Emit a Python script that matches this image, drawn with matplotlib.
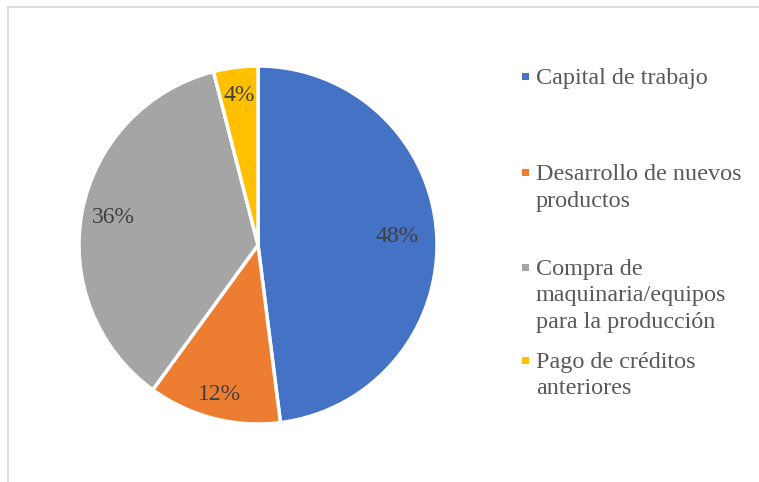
"""Pie chart: destino de los recursos."""
import matplotlib
matplotlib.use("Agg")
import matplotlib.pyplot as plt
import numpy as np
from matplotlib.lines import Line2D
from matplotlib.patches import Rectangle

labels = ["Capital de trabajo",
          "Desarrollo de nuevos\nproductos",
          "Compra de\nmaquinaria/equipos\npara la producción",
          "Pago de créditos\nanteriores"]
values = [48, 12, 36, 4]
colors = ["#4472C4", "#ED7D31", "#A5A5A5", "#FFC000"]

W, H = 759, 482
fig = plt.figure(figsize=(W / 100, H / 100), dpi=100)
plt.rcParams["font.family"] = ["Liberation Serif", "DejaVu Serif"]

# chart frame (only top and left edges visible)
fig.add_artist(Line2D([7.5 / W, 1], [1 - 6.5 / H, 1 - 6.5 / H], color="#d9d9d9", lw=1.2))
fig.add_artist(Line2D([7.5 / W, 7.5 / W], [0, 1 - 6.5 / H], color="#d9d9d9", lw=1.2))

# pie centred at (258, 245) px, radius ~179 px
ax = fig.add_axes([79 / W, (H - 424) / H, 358 / W, 358 / H])
wedges, texts, autotexts = ax.pie(
    values, colors=colors, startangle=90, counterclock=False, radius=1,
    autopct="%d%%", pctdistance=0.8,
    wedgeprops=dict(edgecolor="white", linewidth=2.5),
    textprops=dict(color="#404040", fontsize=17))
ax.set_xlim(-1, 1)
ax.set_ylim(-1, 1)
ax.set_aspect("equal")
ax.axis("off")

# label distances differ slightly per slice (Excel "best fit")
label_dist = [0.78, 0.86, 0.82, 0.84]
for w, t, d in zip(wedges, autotexts, label_dist):
    ang = np.deg2rad((w.theta1 + w.theta2) / 2)
    t.set_position((d * np.cos(ang), d * np.sin(ang)))

# legend drawn by hand to match the original placement
legend_base = [84, 180, 275, 368]
line_step = 26.5
for lab, col, yb in zip(labels, colors, legend_base):
    fig.add_artist(Rectangle((522 / W, 1 - (yb - 4) / H), 7 / W, 7 / H,
                             facecolor=col, edgecolor="none"))
    for i, line in enumerate(lab.split("\n")):
        fig.text(536 / W, 1 - (yb + i * line_step) / H, line, color="#595959",
                 fontsize=17.4, va="baseline", ha="left")

fig.savefig("out.png", dpi=100)
